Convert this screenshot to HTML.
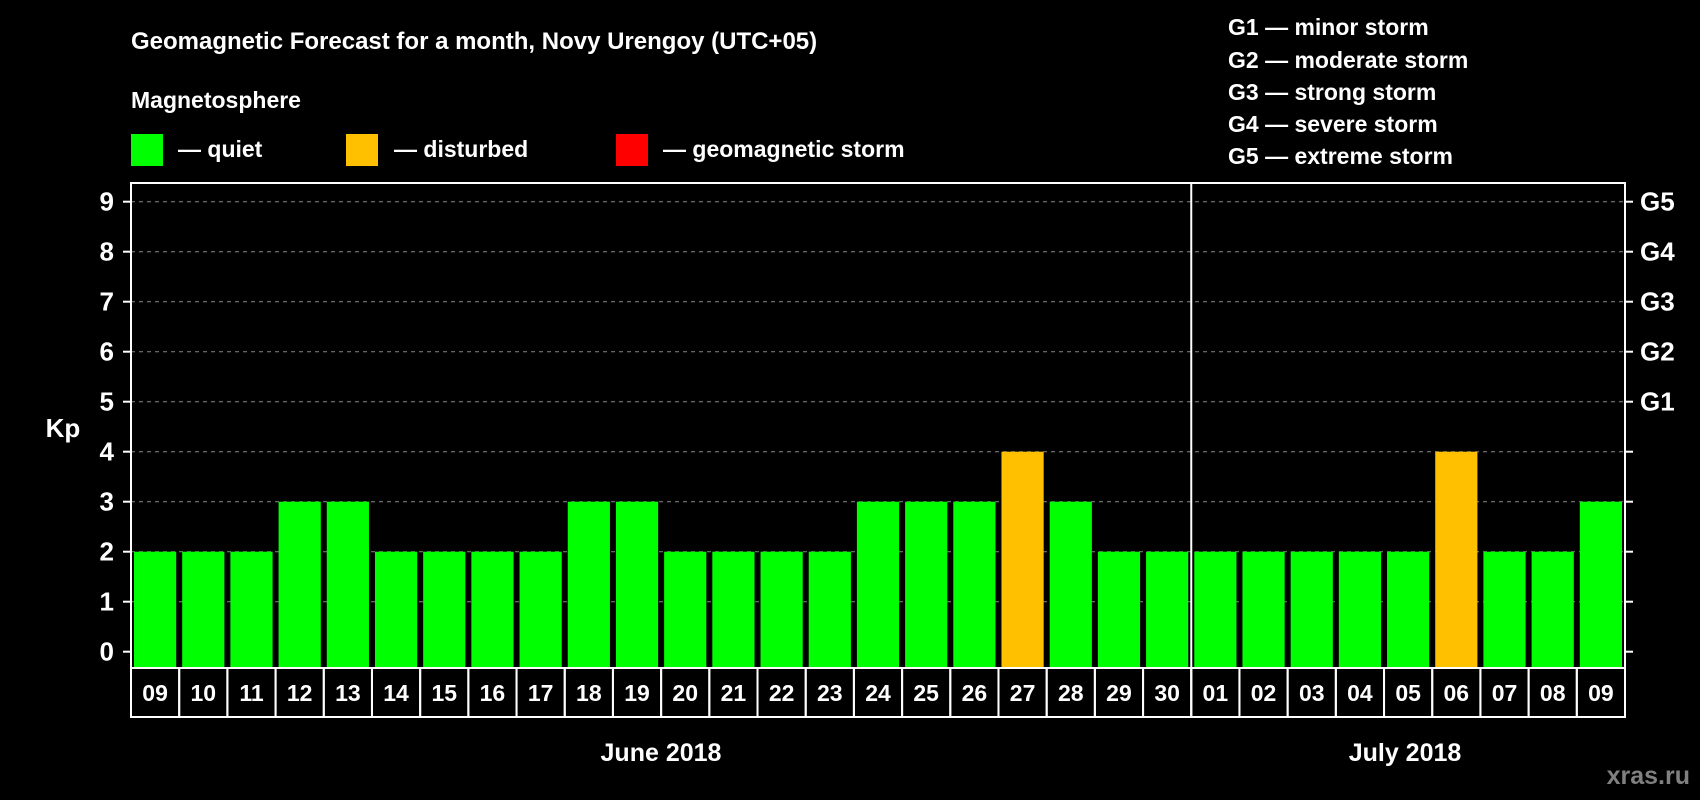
<!DOCTYPE html>
<html><head><meta charset="utf-8"><style>
html,body{margin:0;padding:0;background:#000;}
svg{display:block;font-family:"Liberation Sans",sans-serif;font-weight:bold;}
</style></head><body>
<svg id="chart" width="1700" height="800" viewBox="0 0 1700 800">
<rect x="0" y="0" width="1700" height="800" fill="#000"/>
<text x="131" y="49" fill="#fff" font-size="24">Geomagnetic Forecast for a month, Novy Urengoy (UTC+05)</text>
<text x="131" y="108" fill="#fff" font-size="23">Magnetosphere</text>
<g>
<rect x="131" y="134" width="32" height="32" fill="#00ff00"/>
<text x="178" y="157" fill="#fff" font-size="23">— quiet</text></g>
<g>
<rect x="346" y="134" width="32" height="32" fill="#ffc000"/>
<text x="394" y="157" fill="#fff" font-size="23">— disturbed</text></g>
<g>
<rect x="616" y="134" width="32" height="32" fill="#ff0000"/>
<text x="663" y="157" fill="#fff" font-size="23">— geomagnetic storm</text></g>
<g fill="#fff" font-size="23">
<text x="1228" y="35">G1 — minor storm</text>
<text x="1228" y="68">G2 — moderate storm</text>
<text x="1228" y="100">G3 — strong storm</text>
<text x="1228" y="132">G4 — severe storm</text>
<text x="1228" y="164">G5 — extreme storm</text>
</g>
<text x="63" y="437" fill="#fff" font-size="26" text-anchor="middle">Kp</text>
<g id="grid"></g><g id="bars"></g><g id="axes"></g>
<text x="661" y="761" fill="#fff" font-size="25" text-anchor="middle">June 2018</text>
<text x="1405" y="761" fill="#fff" font-size="25" text-anchor="middle">July 2018</text>
<text x="1690" y="784" fill="#808080" font-size="25" text-anchor="end">xras.ru</text>
</svg>
<script>
const days=["09","10","11","12","13","14","15","16","17","18","19","20","21","22","23","24","25","26","27","28","29","30","01","02","03","04","05","06","07","08","09"];
const kp=[2,2,2,3,3,2,2,2,2,3,3,2,2,2,2,3,3,3,4,3,2,2,2,2,2,2,2,4,2,2,3];
const yTicks=[0,1,2,3,4,5,6,7,8,9];
const gLabels=["G1","G2","G3","G4","G5"];
const gLevels=[5,6,7,8,9];
const NS="http://www.w3.org/2000/svg";
const L=131,R=1625,T=183,B=668,Y0=651.7,UNIT=50;
const slot=(R-L)/days.length;
const y=v=>Y0-v*UNIT;
const x=i=>L+i*slot;
function mk(tag,attrs,parent){const e=document.createElementNS(NS,tag);for(const k in attrs)e.setAttribute(k,attrs[k]);parent.appendChild(e);return e;}
const grid=document.getElementById('grid'),bars=document.getElementById('bars'),axes=document.getElementById('axes');
yTicks.forEach(t=>{
  if(t>0){const g=mk('line',{x1:L,x2:R,y1:y(t),y2:y(t),stroke:'#888','stroke-width':1,'stroke-dasharray':'4,4'},grid);
  
  }
  const tl=mk('line',{x1:L-8,x2:L,y1:y(t),y2:y(t),stroke:'#fff','stroke-width':2},axes);
  
  
  const tr=mk('line',{x1:R,x2:R+8,y1:y(t),y2:y(t),stroke:'#fff','stroke-width':2},axes);
  
  
  const lb=mk('text',{x:114,y:y(t)+9,fill:'#fff','font-size':26,'text-anchor':'end'},axes);
  lb.textContent=t;
  
  
});
gLabels.forEach((g,i)=>{
  const t=mk('text',{x:1640,y:y(gLevels[i])+9,fill:'#fff','font-size':26},axes);
  t.textContent=g;
  
  
});
kp.forEach((v,i)=>{
  const col=v>=5?'#ff0000':(v>=4?'#ffc000':'#00ff00');
  const b=mk('rect',{x:x(i)+3,y:y(v),width:slot-6,height:B-y(v),fill:col},bars);
  
  
  const c=mk('rect',{x:x(i),y:B,width:slot,height:49,fill:'none',stroke:'#fff','stroke-width':2},axes);
  
  
  const t=mk('text',{x:x(i)+slot/2,y:B+33,fill:'#fff','font-size':23,'text-anchor':'middle'},axes);
  t.textContent=days[i];
  
  
});
const f=mk('rect',{x:L,y:T,width:R-L,height:B-T,fill:'none',stroke:'#fff','stroke-width':2},axes);


const mi=days.indexOf("01");
const d=mk('line',{x1:x(mi),x2:x(mi),y1:T,y2:B+49,stroke:'#fff','stroke-width':2},axes);


</script>
</body></html>
